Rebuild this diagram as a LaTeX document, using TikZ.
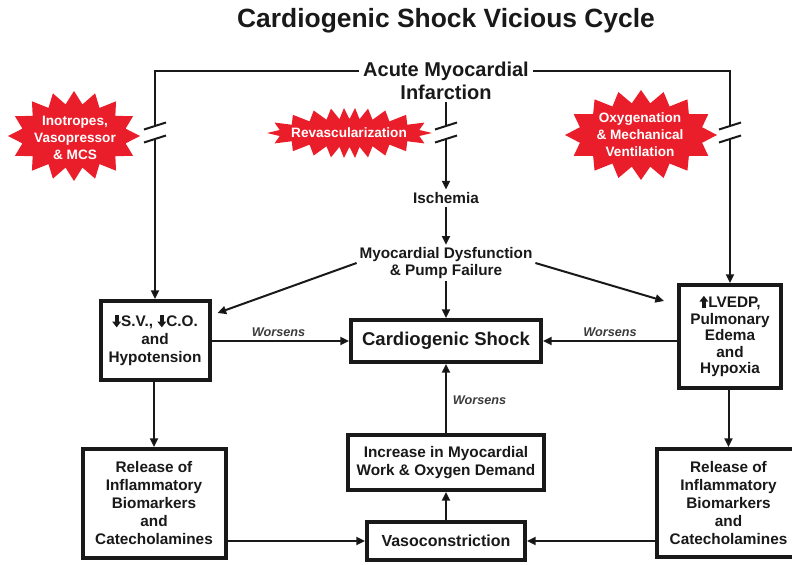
\documentclass[tikz,border=0pt]{standalone}
\usepackage{fontspec}
\setmainfont{Liberation Sans}
\usetikzlibrary{arrows.meta,calc}

\definecolor{burstred}{RGB}{234,30,42}
\definecolor{ink}{RGB}{25,25,25}

% small solid arrows used inside the box texts
\newcommand{\dnglyph}{\tikz[baseline=0pt]{\fill[ink] (-1.5pt,9pt) rectangle (1.5pt,3.6pt);
  \fill[ink] (-3.4pt,4pt) -- (3.4pt,4pt) -- (0pt,-0.3pt) -- cycle;}}
\newcommand{\upglyph}{\tikz[baseline=0pt]{\fill[ink] (-1.5pt,-0.3pt) rectangle (1.5pt,5pt);
  \fill[ink] (-3.4pt,4.6pt) -- (3.4pt,4.6pt) -- (0pt,9pt) -- cycle;}}

% red starburst: centre x, centre y, half width, half height, spike depth, spikes
\newcommand{\drawburst}[6]{%
  \pgfmathtruncatemacro{\burstlast}{2*#6-1}%
  \pgfmathsetmacro{\burstwarp}{deg(((#3/#4)-1)/(2*((#3/#4)+1)))}%
  \fill[burstred] ({#1+#3},{#2}) \foreach \k in {1,...,\burstlast} {
    -- ({#1+(#3-mod(\k,2)*#5)*cos(\k*180/#6+\burstwarp*sin(2*\k*180/#6))},
        {#2+(#4-mod(\k,2)*#5)*sin(\k*180/#6+\burstwarp*sin(2*\k*180/#6))})
  } -- cycle;%
}

\newcommand{\boxfont}{\bfseries\fontsize{11.5}{13.5}\selectfont}

\tikzset{
  box/.style={draw=ink, line width=3pt, fill=white, align=center, text=ink,
    font=\boxfont, inner sep=0pt},
  plain/.style={align=center, text=ink, font=\boxfont, inner sep=2pt},
  conn/.style={line width=1.5pt, draw=ink},
  arr/.style={conn, -{Triangle[length=6.5pt,width=6pt]}},
  worse/.style={text=ink!85, font=\bfseries\itshape\fontsize{9.5}{11}\selectfont, inner sep=0pt},
  bursttext/.style={text=white, align=center, inner sep=0pt,
    font=\bfseries\fontsize{10.2}{12.8}\selectfont},
}

\begin{document}
\begin{tikzpicture}[x=0.75pt,y=-0.75pt]
\useasboundingbox (0,0) rectangle (792,564);

% title
\node[text=ink, font=\bfseries\fontsize{19.8}{24}\selectfont] (title) at (446,21)
  {Cardiogenic Shock Vicious Cycle};

% treatment bursts
\drawburst{74}{136}{66}{45}{13}{16}
\node[bursttext] (inotropes) at (75,138) {Inotropes,\\Vasopressor\\\& MCS};
\drawburst{349.5}{133}{82.5}{25}{11}{22}
\node[bursttext] (revasc) at (349,133) {Revascularization};
\drawburst{641}{135}{76}{45}{13}{16}
\node[bursttext] (oxygen) at (640,135) {Oxygenation\\\& Mechanical\\Ventilation};

% text nodes of the central chain
\node[plain, font=\bfseries\fontsize{15}{18}\selectfont, inner sep=3pt] (ami) at (446,71) {Acute Myocardial};
\node[plain, font=\bfseries\fontsize{15}{18}\selectfont, inner sep=2pt] (inf) at (446,92) {Infarction};
\node[plain] (isch) at (446,198) {Ischemia};
\node[plain, font=\bfseries\fontsize{11.5}{12.3}\selectfont] (myo) at (446,263)
  {Myocardial Dysfunction\\\& Pump Failure};

% boxes
\node[box, minimum width={109*0.75pt}, minimum height={79*0.75pt}] (sv) at (155,340.5)
  {\dnglyph S.V., \dnglyph C.O.\\and\\Hypotension};
\node[box, font=\bfseries\fontsize{13.9}{16}\selectfont,
  minimum width={190*0.75pt}, minimum height={42*0.75pt}] (shock) at (446,341) {Cardiogenic Shock};
\node[box, font=\bfseries\fontsize{11.5}{12.4}\selectfont,
  minimum width={102*0.75pt}, minimum height={103*0.75pt}] (lv) at (730,336.5)
  {\upglyph LVEDP,\\Pulmonary\\Edema\\and\\Hypoxia};
\node[box, minimum width={196*0.75pt}, minimum height={55*0.75pt}] (work) at (446,462.5)
  {Increase in Myocardial\\Work \& Oxygen Demand};
\node[box, font=\bfseries\fontsize{12}{14}\selectfont,
  minimum width={158*0.75pt}, minimum height={38*0.75pt}] (vaso) at (446,541) {Vasoconstriction};
\node[box, minimum width={143*0.75pt}, minimum height={109*0.75pt}] (relL) at (154,503.5)
  {Release of\\Inflammatory\\Biomarkers\\and\\Catecholamines};
\node[box, minimum width={143*0.75pt}, minimum height={108*0.75pt}] (relR) at (728.5,503)
  {Release of\\Inflammatory\\Biomarkers\\and\\Catecholamines};

% break points on the three lines leaving the infarction
\coordinate (lb1) at (155,126);  \coordinate (lb2) at (155,139);
\coordinate (cb1) at (446,126);  \coordinate (cb2) at (446,139);
\coordinate (rb1) at (730,126);  \coordinate (rb2) at (730,139);

\draw[conn] (ami.west) -| (lb1);
\draw[conn] (ami.east) -| (rb1);
\draw[conn] (inf.south) -- (cb1);
\foreach \b in {lb1,lb2,cb1,cb2,rb1,rb2}
  \draw[conn] ($(\b)+(-11,3.5)$) -- ($(\b)+(11,-3.5)$);
\draw[arr] (lb2) -- (lb2 |- sv.north);
\draw[arr] (rb2) -- (rb2 |- lv.north);
\draw[arr] (cb2) -- (isch.north);

% central chain
\draw[arr] (isch.south) -- (myo.north);
\draw[arr] (myo.south) -- (shock.north);
\draw[arr] (myo.west) -- ($(sv.north east)+(6,14)$);
\draw[arr] (myo.east) -- ($(lv.north west)+(-13,18)$);

% worsening links into the shock box
\draw[arr] (sv.east |- shock.west) -- (shock.west);
\draw[arr] (lv.west |- shock.east) -- (shock.east);
\draw[arr] (work.north) -- (shock.south);
\node[worse] (wL) at (278.5,332) {Worsens};
\node[worse] (wR) at (610,332) {Worsens};
\node[worse] (wC) at (479.5,400) {Worsens};

% lower loop
\draw[arr] (sv.south -| relL.north) -- (relL.north);
\draw[arr] (lv.south -| relR.north) -- (relR.north);
\draw[arr] (relL.east |- vaso.west) -- (vaso.west);
\draw[arr] (relR.west |- vaso.east) -- (vaso.east);
\draw[arr] (vaso.north) -- (work.south);
\end{tikzpicture}
\end{document}
